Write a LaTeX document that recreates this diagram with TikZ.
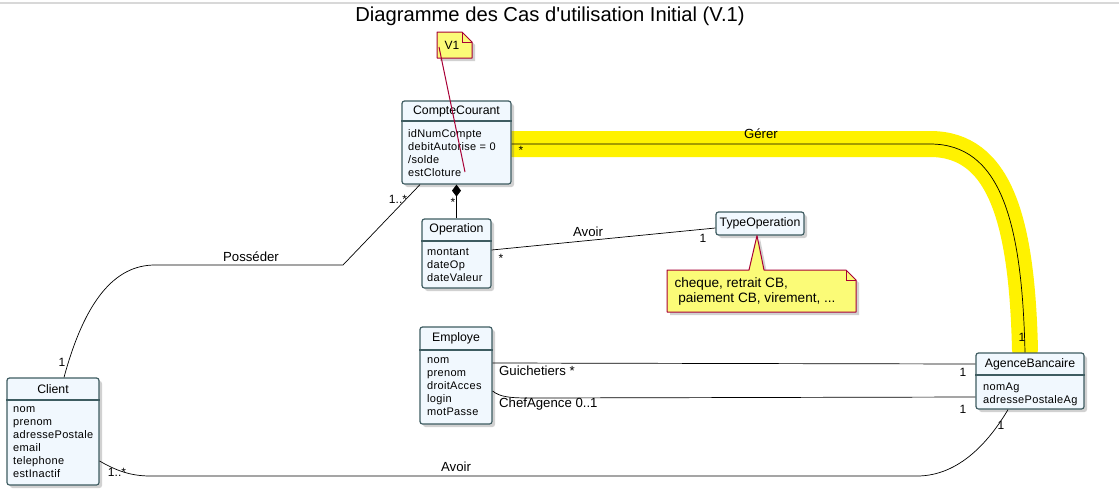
\documentclass[tikz,border=0pt]{standalone}
\usepackage{fontspec}
\setmainfont{Liberation Sans}
\newfontfamily\attrfont[LetterSpace=3]{Liberation Sans}
\usetikzlibrary{arrows.meta,shadows}
\definecolor{classfill}{HTML}{F1F8FE}
\definecolor{classborder}{HTML}{3E5C61}
\definecolor{notefill}{HTML}{FBFB77}
\definecolor{noteborder}{HTML}{A80036}
\definecolor{topline}{HTML}{D8D8D8}
\tikzset{
  classbox/.style={draw=classborder, fill=classfill, line width=1.2pt, rounded corners=2.5pt,
    drop shadow={shadow xshift=3pt, shadow yshift=-3pt, opacity=0.3, fill=black!60}},
  classname/.style={font=\fontsize{12.3}{13}\selectfont},
  attrs/.style={font=\attrfont\fontsize{11}{13}\selectfont, align=left, anchor=north west, inner sep=0pt},
  sepline/.style={draw=classborder, line width=1.2pt},
  assoc/.style={draw=black, line width=0.7pt},
  assoclabel/.style={font=\fontsize{13.2}{15}\selectfont, inner sep=1pt},
  mult/.style={font=\fontsize{12}{13}\selectfont, inner sep=1pt},
  notebox/.style={draw=noteborder, fill=notefill, line width=1pt, line join=round,
    drop shadow={shadow xshift=3pt, shadow yshift=-3pt, opacity=0.3, fill=black!60}},
  noteline/.style={draw=noteborder, line width=1pt}
}
\begin{document}
\begin{tikzpicture}[x=1pt,y=-1pt]
  \useasboundingbox (0,0) rectangle (1119,496);
  \draw[topline, line width=1.5pt] (0,3) -- (1119,3);
  \node[font=\fontsize{20.2}{22}\selectfont] (title) at (550,16) {Diagramme des Cas d\textquotesingle utilisation Initial (V.1)};

  % surlignage de l'association Gerer
  \draw[yellow, line width=26pt, line cap=round] (512,144) -- (930,144)
    .. controls (1000,144) and (1022,220) .. (1025,350);

  % classes
  \node[classbox, minimum width=109pt, minimum height=83pt] (cc) at (456.5,142.5) {};
  \node[classname] (cc-name) at (456.5,111) {CompteCourant};
  \draw[sepline] (cc.west |- 0,121) -- (cc.east |- 0,121);
  \node[attrs] (cc-attr) at (408,129.5) {idNumCompte\\debitAutorise = 0\\/solde\\estCloture};

  \node[classbox, minimum width=69pt, minimum height=69pt] (op) at (456.5,253.5) {};
  \node[classname] (op-name) at (456.5,229) {Operation};
  \draw[sepline] (op.west |- 0,241) -- (op.east |- 0,241);
  \node[attrs] (op-attr) at (427,248.5) {montant\\dateOp\\dateValeur};

  \node[classbox, classname, minimum width=88pt, minimum height=23pt, inner sep=2pt] (typeop) at (760,223.5) {TypeOperation};

  \node[classbox, minimum width=72pt, minimum height=97pt] (em) at (456,375.5) {};
  \node[classname] (em-name) at (456,338) {Employe};
  \draw[sepline] (em.west |- 0,350) -- (em.east |- 0,350);
  \node[attrs] (em-attr) at (427,357.5) {nom\\prenom\\droitAcces\\login\\motPasse};

  \node[classbox, minimum width=108pt, minimum height=56pt] (ab) at (1030,381) {};
  \node[classname] (ab-name) at (1030,364) {AgenceBancaire};
  \draw[sepline] (ab.west |- 0,375) -- (ab.east |- 0,375);
  \node[attrs] (ab-attr) at (983,382.5) {nomAg\\adressePostaleAg};

  \node[classbox, minimum width=92pt, minimum height=107pt] (cl) at (53,431.5) {};
  \node[classname] (cl-name) at (53,389) {Client};
  \draw[sepline] (cl.west |- 0,400) -- (cl.east |- 0,400);
  \node[attrs] (cl-attr) at (13,406.5) {nom\\prenom\\adressePostale\\email\\telephone\\estInactif};

  % associations
  \draw[assoc] (cc.east |- 0,144) -- (930,144)
    .. controls (1000,144) and (1022,220) .. (1025,0 |- ab.north);
  \node[assoclabel] (gerer) at (761,134) {Gérer};
  \node[mult] at (521,150) {*};
  \node[mult] at (1022,337) {1};

  \draw[assoc, -{Diamond[length=12pt,width=9pt]}] (op.north) -- (cc.south);
  \node[mult] at (453,202) {*};

  \draw[assoc] (op.east |- 0,250) -- (typeop.west |- 0,228);
  \node[assoclabel] (avoir-type) at (588,232) {Avoir};
  \node[mult] at (501,258) {*};
  \node[mult] at (703,238) {1};

  \coordinate (poss-bend) at (343,265);
  \draw[assoc] (64,0 |- cl.north) .. controls (85,300) and (115,265) .. (155,265)
    -- (poss-bend) -- (420,0 |- cc.south);
  \node[assoclabel] (posseder) at (251,257) {Posséder};
  \node[mult] at (62,362) {1};
  \node[mult] at (398,199) {1..*};

  \draw[assoc] (em.east |- 0,363) -- (ab.west |- 0,364);
  \node[assoclabel, anchor=west] (guichetiers) at (498,371) {Guichetiers *};
  \node[mult] at (963,372) {1};

  \draw[assoc] (em.east |- 0,391) .. controls (500,397) and (510,398) .. (530,398) -- (ab.west |- 0,397);
  \node[assoclabel, anchor=west] (chef) at (498,404) {ChefAgence 0..1};
  \node[mult] at (963,409) {1};

  \draw[assoc] (cl.east |- 0,461) .. controls (115,470) and (130,476) .. (150,476)
    -- (917,476) .. controls (960,476) and (990,440) .. (1008,0 |- ab.south);
  \node[assoclabel] (avoir-agence) at (456,467) {Avoir};
  \node[mult] at (117,472) {1..*};
  \node[mult] at (1001,425) {1};

  % notes
  \filldraw[notebox] (437,32) -- (462,32) -- (472,42) -- (472,58) -- (437,58) -- cycle;
  \draw[noteline] (462,32) -- (462,42) -- (472,42);
  \node[font=\fontsize{12}{13}\selectfont] (v1) at (452,45) {V1};
  \coordinate (cc-note) at (465,172);
  \draw[noteline] (439,47) -- (cc-note);

  \filldraw[notebox] (667,270) -- (749,270) -- (typeop.south -| 757,0) -- (764,270) -- (846,270)
    -- (856,280) -- (856,312) -- (667,312) -- cycle;
  \draw[noteline] (846,270) -- (846,280) -- (856,280);
  \node[font=\fontsize{13.6}{15}\selectfont, align=left, anchor=west] (typeop-note) at (671,291)
    {cheque, retrait CB,\\\ paiement CB, virement, ...};
\end{tikzpicture}
\end{document}
